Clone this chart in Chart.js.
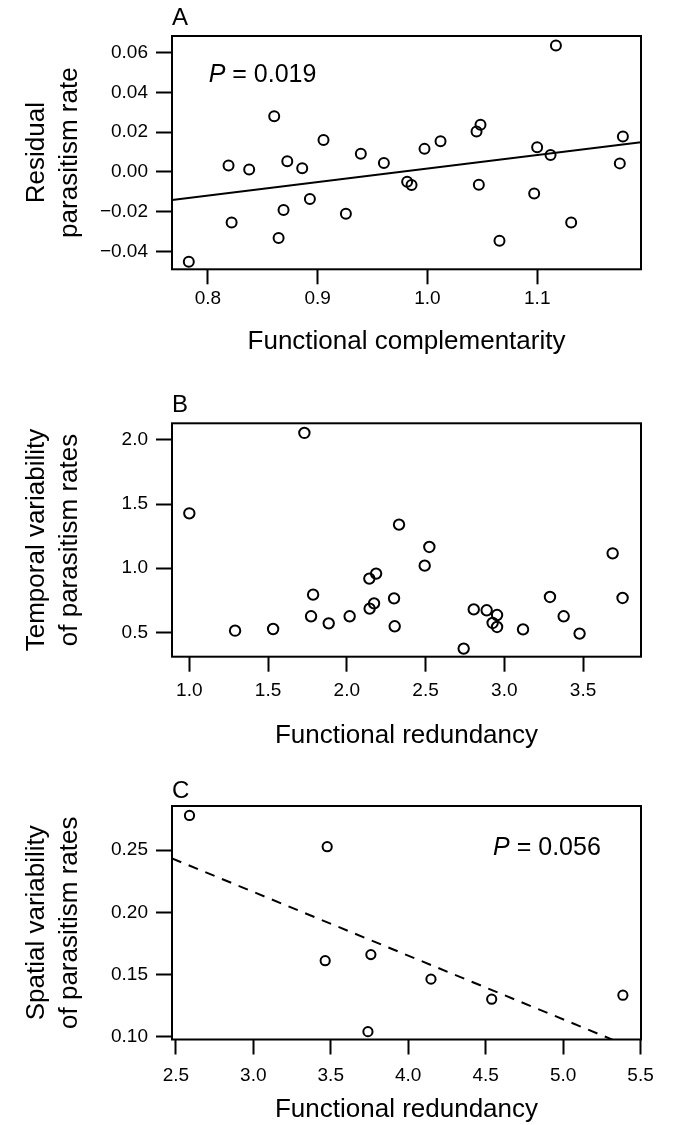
<!DOCTYPE html>
<html>
<head>
<meta charset="utf-8">
<script src="https://cdn.jsdelivr.net/npm/chart.js@4.4.1/dist/chart.umd.min.js"></script>
<style>
  body { margin: 0; background: #fff; }
  #wrap { position: relative; width: 675px; height: 1125px; }
  canvas { position: absolute; left: 0; }
</style>
</head>
<body>
<div id="wrap">
  <canvas id="panelA" width="675" height="370" style="top:0px"></canvas>
  <canvas id="panelB" width="675" height="385" style="top:370px"></canvas>
  <canvas id="panelC" width="675" height="370" style="top:755px"></canvas>
</div>
<script>
// A: residual parasitism rate against functional complementarity
const complementarity = [0.7826, 0.8188, 0.8216, 0.8376, 0.8604, 0.8644, 0.8689, 0.8723, 0.8859, 0.8929,
  0.9053, 0.9257, 0.9393, 0.9603, 0.9815, 0.9855, 0.9973, 1.0119, 1.0447, 1.0468,
  1.0483, 1.0656, 1.0972, 1.0999, 1.1121, 1.1170, 1.1309, 1.1752, 1.1780];
const residualRate = [-0.0452, 0.0032, -0.0255, 0.0012, 0.0280, -0.0333, -0.0192, 0.0054, 0.0018, -0.0136,
  0.0161, -0.0210, 0.0091, 0.0045, -0.0049, -0.0066, 0.0116, 0.0154, 0.0203, -0.0064,
  0.0237, -0.0346, -0.0108, 0.0124, 0.0085, 0.0636, -0.0254, 0.0043, 0.0178];
const ticksAx = [0.8, 0.9, 1.0, 1.1];
const ticksAy = [-0.04, -0.02, 0, 0.02, 0.04, 0.06];
const fitA = { intercept: -0.0662, slope: 0.0679 };

// B: temporal variability against functional redundancy
const redundancyB = [1.000, 1.2905, 1.532, 1.7306, 1.773, 1.786, 1.885, 2.018, 2.143, 2.145,
  2.173, 2.186, 2.300, 2.304, 2.3316, 2.4945, 2.524, 2.742, 2.806, 2.888,
  2.926, 2.954, 2.954, 3.119, 3.290, 3.377, 3.478, 3.688, 3.751];
const temporalVar = [1.428, 0.513, 0.526, 2.055, 0.625, 0.794, 0.570, 0.625, 0.919, 0.685,
  0.726, 0.958, 0.765, 0.547, 1.340, 1.020, 1.166, 0.373, 0.679, 0.672,
  0.573, 0.635, 0.542, 0.523, 0.776, 0.625, 0.490, 1.116, 0.768];
const ticksBx = [1.0, 1.5, 2.0, 2.5, 3.0, 3.5];
const ticksBy = [0.5, 1.0, 1.5, 2.0];

// C: spatial variability against functional redundancy
const redundancyC = [2.588, 3.464, 3.477, 3.740, 3.759, 4.147, 4.539, 5.386];
const spatialVar = [0.2778, 0.1611, 0.2527, 0.1041, 0.1660, 0.1463, 0.1302, 0.1334];
const ticksCx = [2.5, 3.0, 3.5, 4.0, 4.5, 5.0, 5.5];
const ticksCy = [0.10, 0.15, 0.20, 0.25];
const fitC = { intercept: 0.370, slope: -0.0512 };

const FONT = '"Liberation Sans", Arial, Helvetica, sans-serif';
Chart.defaults.font.family = FONT;
Chart.defaults.color = '#000';

const fmt = d => v => (v < 0 ? '\u2212' : '') + Math.abs(v).toFixed(d);

// box around the plot region, panel letter and the P value
const decorations = {
  id: 'decorations',
  afterDraw(chart, args, opts) {
    const { ctx, chartArea: a, scales } = chart;
    ctx.save();
    ctx.strokeStyle = '#000';
    ctx.lineWidth = 2;
    ctx.strokeRect(a.left, a.top, a.right - a.left, a.bottom - a.top);
    ctx.fillStyle = '#000';
    ctx.textAlign = 'left';
    ctx.textBaseline = 'alphabetic';
    ctx.font = '24px ' + FONT;
    ctx.fillText(opts.letter, a.left, a.top - opts.letterGap);
    if (opts.pValue) {
      const x = scales.x.getPixelForValue(opts.pAt[0]);
      const y = scales.y.getPixelForValue(opts.pAt[1]);
      ctx.font = 'italic 25px ' + FONT;
      ctx.fillText('P', x, y);
      const w = ctx.measureText('P').width;
      ctx.font = '25px ' + FONT;
      ctx.fillText(' = ' + opts.pValue, x + w, y);
    }
    ctx.restore();
  }
};

function makePanel(id, p) {
  const tickFont = { size: 19 };
  const datasets = [{
    data: p.xs.map((x, i) => ({ x, y: p.ys[i] })),
    pointStyle: 'circle',
    pointRadius: p.radius,
    pointBorderWidth: 2,
    pointBorderColor: '#000',
    pointBackgroundColor: 'rgba(0,0,0,0)',
    showLine: false
  }];
  if (p.fit) {
    datasets.push({
      data: [p.xRange[0], p.xRange[1]].map(x => ({ x, y: p.fit.intercept + p.fit.slope * x })),
      showLine: true,
      borderColor: '#000',
      borderWidth: 2,
      borderDash: p.dash || [],
      pointRadius: 0
    });
  }
  return new Chart(document.getElementById(id), {
    type: 'scatter',
    data: { datasets },
    plugins: [decorations],
    options: {
      responsive: false,
      animation: false,
      devicePixelRatio: 1,
      events: [],
      layout: { padding: { top: p.top, right: 34, left: 0, bottom: 0 } },
      plugins: {
        legend: { display: false },
        tooltip: { enabled: false },
        decorations: { letter: p.letter, letterGap: p.letterGap, pValue: p.pValue, pAt: p.pAt }
      },
      scales: {
        x: {
          type: 'linear',
          min: p.xRange[0],
          max: p.xRange[1],
          afterBuildTicks: s => { s.ticks = p.xTicks.map(value => ({ value })); },
          afterFit: s => { s.height = p.xAxisHeight; },
          ticks: { font: tickFont, color: '#000', padding: p.xLabelPad, maxRotation: 0, autoSkip: false, callback: fmt(1) },
          grid: { drawOnChartArea: false, tickLength: 15, tickWidth: 2, tickColor: '#000' },
          border: { display: false },
          title: { display: true, text: p.xTitle, color: '#000', font: { size: 26, lineHeight: 1.2 },
                   padding: { top: 0, bottom: p.xTitlePad } }
        },
        y: {
          type: 'linear',
          min: p.yRange[0],
          max: p.yRange[1],
          afterBuildTicks: s => { s.ticks = p.yTicks.map(value => ({ value })); },
          afterFit: s => { s.width = 172; },
          ticks: { font: tickFont, color: '#000', padding: 8, autoSkip: false, callback: fmt(p.yDigits) },
          grid: { drawOnChartArea: false, tickLength: 16, tickWidth: 2, tickColor: '#000' },
          border: { display: false },
          title: { display: true, text: p.yTitle, color: '#000', font: { size: 26, lineHeight: 1.24 },
                   padding: { top: 21, bottom: 0 } }
        }
      }
    }
  });
}

makePanel('panelA', {
  xs: complementarity, ys: residualRate, radius: 5,
  xRange: [0.7673, 1.1945], yRange: [-0.0490, 0.0684],
  xTicks: ticksAx, yTicks: ticksAy, yDigits: 2,
  fit: fitA,
  top: 36, xAxisHeight: 100.7, xLabelPad: 3, xTitlePad: 12.7,
  xTitle: 'Functional complementarity',
  yTitle: ['Residual', 'parasitism rate'],
  letter: 'A', letterGap: 11,
  pValue: '0.019', pAt: [0.8007, 0.0451]
});

makePanel('panelB', {
  xs: redundancyB, ys: temporalVar, radius: 5.2,
  xRange: [0.890, 3.868], yRange: [0.310, 2.130],
  xTicks: ticksBx, yTicks: ticksBy, yDigits: 1,
  top: 53.3, xAxisHeight: 98.3, xLabelPad: 8, xTitlePad: 3.9,
  xTitle: 'Functional redundancy',
  yTitle: ['Temporal variability', 'of parasitism rates'],
  letter: 'B', letterGap: 11.6
});

makePanel('panelC', {
  xs: redundancyC, ys: spatialVar, radius: 4.6,
  xRange: [2.475, 5.503], yRange: [0.0978, 0.2854],
  xTicks: ticksCx, yTicks: ticksCy, yDigits: 2,
  fit: fitC, dash: [10, 8],
  top: 51, xAxisHeight: 85.5, xLabelPad: 9.7, xTitlePad: 0,
  xTitle: 'Functional redundancy',
  yTitle: ['Spatial variability', 'of parasitism rates'],
  letter: 'C', letterGap: 8,
  pValue: '0.056', pAt: [4.548, 0.246]
});
</script>
</body>
</html>
